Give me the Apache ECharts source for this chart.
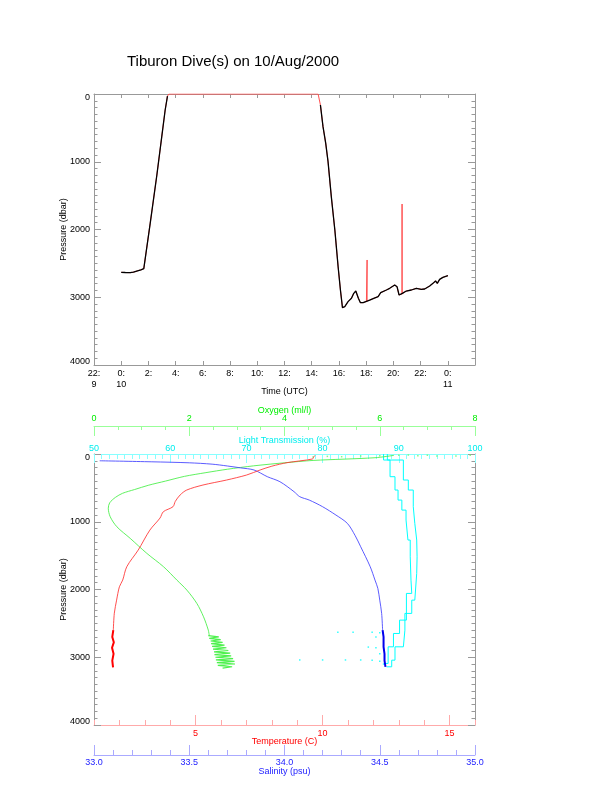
<!DOCTYPE html>
<html><head><meta charset="utf-8">
<script src="https://cdn.jsdelivr.net/npm/echarts@6/dist/echarts.min.js"></script>
<style>html,body{margin:0;padding:0;background:#fff}#c{width:612px;height:785px}</style>
</head><body><div id="c"></div>
<script>
// ---------- Top panel: pressure vs time (hours since 0:00 on the 10th) ----------
const diveTime = [0, 0.3, 0.66, 0.9, 1.2, 1.45, 1.66, 2.13, 2.62, 2.98, 3.23, 3.40, 3.5,
  14.47, 14.64, 14.83, 15.03, 15.2, 15.44, 15.7, 15.94, 16.11, 16.26,
  16.43, 16.67, 16.92, 17.09, 17.24, 17.33, 17.43, 17.58, 17.78, 18.02, 18.26, 18.56, 18.88,
  19.07, 19.49, 19.73, 20.1, 20.27, 20.42, 20.66, 20.95, 21.32, 21.69, 22.05, 22.3, 22.67,
  22.91, 23.1, 23.23, 23.4, 23.64, 24.01];
const divePressure = [2632, 2635, 2637, 2630, 2610, 2595, 2578, 1909, 1196, 630, 236, 30, 0,
  0, 162, 482, 728, 999, 1515, 2007, 2549, 2893, 3154,
  3139, 3065, 3016, 2942, 2908, 2922, 3016, 3080, 3080, 3060, 3041, 3016, 2991,
  2932, 2893, 2868, 2819, 2844, 2967, 2942, 2908, 2893, 2868, 2883, 2878, 2834,
  2795, 2760, 2795, 2736, 2706, 2681];
const spikeTime = [18.07, 20.64];
const spikeBase = [3058, 2950];
const spikeTop = [2450, 1624];
const timeTicks = [-2, 0, 2, 4, 6, 8, 10, 12, 14, 16, 18, 20, 22, 24];
const timeTickLabels = ['22:\n9', '0:\n10', '2:', '4:', '6:', '8:', '10:', '12:', '14:', '16:', '18:', '20:', '22:', '0:\n11'];

// ---------- Bottom panel: profiles vs pressure ----------
const tempPressure = [20, 45, 74, 128, 180, 236, 310, 384, 458, 532, 605, 700, 778, 852, 945, 1123, 1418, 1664, 1861, 1960, 2157, 2350, 2600];
const temperature  = [9.7, 9.65, 9.6, 8.6, 8.0, 7.54, 7.01, 6.22, 5.29, 4.65, 4.39, 4.2, 4.11, 3.73, 3.6, 3.2, 2.74, 2.29, 2.13, 2.0, 1.89, 1.8, 1.76];
const tempDeepPressure = [2600, 2620, 2700, 2780, 2860, 2950, 3050, 3150];
const tempDeep = [1.76, 1.78, 1.72, 1.78, 1.71, 1.77, 1.72, 1.75];

const salPressure = [100, 115, 130, 150, 177, 205, 236, 335, 409, 556, 630, 680, 778, 901, 1024, 1200, 1369, 1664, 1861, 1984, 2157, 2353, 2600];
const salinity    = [33.03, 33.3, 33.5, 33.62, 33.70, 33.77, 33.84, 33.91, 33.976, 34.05, 34.08, 34.13, 34.2, 34.27, 34.33, 34.37, 34.40, 34.45, 34.475, 34.49, 34.50, 34.51, 34.515];
const salDeepPressure = [2600, 2700, 2846, 2950, 3050, 3141];
const salDeep = [34.515, 34.52, 34.52, 34.525, 34.525, 34.53];

const oxyPressure = [20, 55, 95, 130, 175, 225, 275, 330, 400, 460, 525, 580, 640, 720, 800, 926, 1074, 1245, 1467, 1664, 1861, 2009, 2206, 2403, 2600, 2680];
const oxygen      = [6.3, 5.9, 4.6, 4.0, 3.35, 2.8, 2.35, 1.9, 1.5, 1.15, 0.85, 0.6, 0.45, 0.33, 0.3, 0.34, 0.48, 0.76, 1.11, 1.46, 1.74, 1.95, 2.16, 2.3, 2.4, 2.42];
const oxyBlobPressure = [2680, 2700, 2720, 2740, 2760, 2780, 2800, 2820, 2840, 2860, 2880, 2900, 2920, 2940, 2960, 2980, 3000, 3020, 3040, 3060, 3080, 3100, 3120, 3140, 3160];
const oxyBlob = [2.40, 2.62, 2.42, 2.66, 2.45, 2.70, 2.46, 2.74, 2.48, 2.78, 2.50, 2.82, 2.52, 2.86, 2.53, 2.88, 2.55, 2.92, 2.56, 2.95, 2.58, 2.96, 2.60, 2.90, 2.70];
const oxySurfPressure = [40, 30, 25, 20, 25, 30, 28, 20, 15, 18, 35, 45];
const oxySurf = [5.2, 5.6, 6.0, 6.4, 6.8, 7.2, 7.6, 7.9, 6.6, 7.0, 4.9, 4.6];

const ltDownPressure = [0, 89, 335, 532, 680, 828, 975, 1270, 1517, 1862, 2058, 2452, 2649, 2846, 3092];
const ltDown = [88.0, 88.85, 89.5, 89.9, 90.4, 90.95, 91.2, 91.5, 91.6, 91.7, 91.0, 90.1, 89.3, 88.6, 88.2];
const ltUpPressure = [0, 89, 384, 532, 778, 1024, 1270, 1517, 1762, 2157, 2353, 2600, 2846, 3043, 3141];
const ltUp = [88.5, 90.6, 91.25, 91.9, 92.1, 92.35, 92.4, 92.35, 92.1, 91.7, 90.8, 90.6, 89.5, 89.07, 88.4];
const ltDotPressure = [2630, 2630, 2632, 2640, 2700, 2850, 2860, 2950, 3040, 3040, 3040, 3040, 3045, 3060, 3100];
const ltDots = [82, 84, 86.5, 87.5, 87, 86, 87, 87.5, 77, 80, 83, 85, 86.5, 87.5, 88];

const FONT = 'Liberation Sans';
const FS = 9;
const GRAY = '#999999';
const pairs = (xs, ys) => xs.map((x, i) => [x, ys[i]]);

// red raw trace: dive data with the two spikes inserted
const rawData = [];
let s = 0;
diveTime.forEach((t, i) => {
  while (s < spikeTime.length && spikeTime[s] < t) {
    rawData.push([spikeTime[s], spikeBase[s]], [spikeTime[s], spikeTop[s]], [spikeTime[s], spikeBase[s]]);
    s++;
  }
  rawData.push([t, divePressure[i]]);
});
const blackData = diveTime.map((t, i) => [t, divePressure[i] > 0 ? divePressure[i] : '-']);

const labelFmtP = v => v === 0 ? '{lo|0}' : (v === 4000 ? '{hi|4000}' : String(v));
const richP = {
  lo: { padding: [8, 0, 0, 0], fontSize: FS, fontFamily: FONT, color: '#000' },
  hi: { padding: [0, 0, 6, 0], fontSize: FS, fontFamily: FONT, color: '#000' }
};
function pressureAxis(grid, pos, labels) {
  return {
    type: 'value', gridIndex: grid, position: pos, inverse: true, min: 0, max: 4000, interval: 1000,
    axisLine: { show: true, onZero: false, lineStyle: { color: GRAY, width: 1 } },
    axisTick: { show: true, inside: true, length: 7, lineStyle: { color: GRAY } },
    minorTick: { show: true, splitNumber: 10, length: 3.5, lineStyle: { color: GRAY } },
    splitLine: { show: false },
    axisLabel: { show: labels, fontSize: FS, fontFamily: FONT, color: '#000', margin: 4, formatter: labelFmtP, rich: richP },
    name: labels ? 'Pressure (dbar)' : '', nameLocation: 'middle', nameGap: 26, nameRotate: 90,
    nameMoveOverlap: false,
    nameTextStyle: { fontSize: FS, fontFamily: FONT, color: '#000' }
  };
}
function timeAxis(pos, labels) {
  return {
    type: 'value', gridIndex: 0, position: pos, min: -2, max: 26, interval: 2,
    axisLine: { show: true, onZero: false, lineStyle: { color: GRAY } },
    axisTick: { show: true, inside: true, length: 4, lineStyle: { color: GRAY } },
    splitLine: { show: false },
    axisLabel: {
      show: labels, fontSize: FS, fontFamily: FONT, color: '#000', margin: 3, lineHeight: 11,
      formatter: v => { const k = timeTicks.indexOf(v); return k >= 0 ? timeTickLabels[k] : ''; }
    },
    name: labels ? 'Time (UTC)' : '', nameLocation: 'middle', nameGap: 22, nameMoveOverlap: false,
    nameTextStyle: { fontSize: FS, fontFamily: FONT, color: '#000' }
  };
}
function profAxis(opt) {
  const a = Object.assign({
    type: 'value', gridIndex: 1, splitLine: { show: false },
    nameLocation: 'middle', nameMoveOverlap: false
  }, opt);
  a.axisLine = Object.assign({ onZero: false }, a.axisLine);
  return a;
}

const option = {
  animation: false,
  backgroundColor: '#fff',
  title: {
    text: 'Tiburon Dive(s) on 10/Aug/2000', left: 127, top: 54, padding: 0,
    textStyle: { fontSize: 15, fontWeight: 'normal', fontFamily: FONT, color: '#000' }
  },
  grid: [
    { left: 94, top: 94, width: 381, height: 271, containLabel: false },
    { left: 94, top: 454, width: 381, height: 271, containLabel: false }
  ],
  xAxis: [
    timeAxis('bottom', true),
    timeAxis('top', false),
    // 2: temperature (labels + major ticks)
    profAxis({
      position: 'bottom', min: 1, max: 16, interval: 1,
      axisLine: { show: true, lineStyle: { color: '#ffaaaa' } },
      axisTick: { show: true, inside: true, length: 10, customValues: [5, 10, 15], lineStyle: { color: '#ffaaaa' } },
      axisLabel: { fontSize: FS, fontFamily: FONT, color: '#ff0000', margin: 4, customValues: [5, 10, 15] },
      name: 'Temperature (C)', nameGap: 12, nameTextStyle: { fontSize: FS, fontFamily: FONT, color: '#ff0000' }
    }),
    // 3: temperature minor ticks
    profAxis({
      position: 'bottom', min: 1, max: 16, interval: 1,
      axisLine: { show: false },
      axisTick: { show: true, inside: true, length: 5, lineStyle: { color: '#ffaaaa' } },
      axisLabel: { show: false }
    }),
    // 4: salinity
    profAxis({
      position: 'bottom', offset: 30, min: 33, max: 35, interval: 0.5,
      axisLine: { show: true, lineStyle: { color: '#aaaaff' } },
      axisTick: { show: true, inside: true, length: 10, lineStyle: { color: '#aaaaff' } },
      minorTick: { show: true, splitNumber: 5, length: 5, lineStyle: { color: '#aaaaff' } },
      axisLabel: { fontSize: FS, fontFamily: FONT, color: '#2222ff', margin: 3, formatter: v => v.toFixed(1) },
      name: 'Salinity (psu)', nameGap: 12, nameTextStyle: { fontSize: FS, fontFamily: FONT, color: '#2222ff' }
    }),
    // 5: light transmission
    profAxis({
      position: 'top', min: 50, max: 100, interval: 10,
      axisLine: { show: true, lineStyle: { color: '#88ffff' } },
      axisTick: { show: true, inside: true, length: 9, lineStyle: { color: '#88ffff' } },
      minorTick: { show: true, splitNumber: 10, length: 5, lineStyle: { color: '#88ffff' } },
      axisLabel: { fontSize: FS, fontFamily: FONT, color: '#00eeee', margin: 1 },
      name: 'Light Transmission (%)', nameGap: 9, nameTextStyle: { fontSize: FS, fontFamily: FONT, color: '#00eeee' }
    }),
    // 6: oxygen
    profAxis({
      position: 'top', offset: 28, min: 0, max: 8, interval: 2,
      axisLine: { show: true, lineStyle: { color: '#99ff99' } },
      axisTick: { show: true, inside: true, length: 10, lineStyle: { color: '#99ff99' } },
      minorTick: { show: true, splitNumber: 4, length: 4, lineStyle: { color: '#99ff99' } },
      axisLabel: { fontSize: FS, fontFamily: FONT, color: '#00ee00', margin: 3 },
      name: 'Oxygen (ml/l)', nameGap: 11, nameTextStyle: { fontSize: FS, fontFamily: FONT, color: '#00ee00' }
    })
  ],
  yAxis: [
    pressureAxis(0, 'left', true),
    pressureAxis(0, 'right', false),
    pressureAxis(1, 'left', true),
    pressureAxis(1, 'right', false)
  ],
  series: [
    { type: 'line', xAxisIndex: 0, yAxisIndex: 0, data: rawData, showSymbol: false, symbol: 'none',
      lineStyle: { color: '#ff5050', width: 1 }, z: 3 },
    { type: 'line', xAxisIndex: 0, yAxisIndex: 0, data: blackData, showSymbol: false, symbol: 'none',
      connectNulls: false, lineStyle: { color: '#000', width: 1.3 }, z: 4 },

    { type: 'line', xAxisIndex: 5, yAxisIndex: 2, data: pairs(ltDown, ltDownPressure), step: 'start',
      showSymbol: false, symbol: 'none', lineStyle: { color: '#00ffff', width: 1 } },
    { type: 'line', xAxisIndex: 5, yAxisIndex: 2, data: pairs(ltUp, ltUpPressure), step: 'start',
      showSymbol: false, symbol: 'none', lineStyle: { color: '#00ffff', width: 1 } },
    { type: 'scatter', xAxisIndex: 5, yAxisIndex: 2, data: pairs(ltDots, ltDotPressure),
      symbol: 'rect', symbolSize: 1.5, itemStyle: { color: '#00ffff' } },

    { type: 'line', xAxisIndex: 6, yAxisIndex: 2, data: pairs(oxygen, oxyPressure), smooth: 0.3,
      showSymbol: false, symbol: 'none', lineStyle: { color: '#44ee44', width: 1, opacity: 0.85 } },
    { type: 'line', xAxisIndex: 6, yAxisIndex: 2, data: pairs(oxyBlob, oxyBlobPressure),
      showSymbol: false, symbol: 'none', lineStyle: { color: '#22ee22', width: 1.2, opacity: 0.8 } },
    { type: 'scatter', xAxisIndex: 6, yAxisIndex: 2, data: pairs(oxySurf, oxySurfPressure),
      symbol: 'rect', symbolSize: 1.5, itemStyle: { color: '#66ff66' } },

    { type: 'line', xAxisIndex: 4, yAxisIndex: 2, data: pairs(salinity, salPressure), smooth: 0.3,
      showSymbol: false, symbol: 'none', lineStyle: { color: '#4040ff', width: 1, opacity: 0.85 } },
    { type: 'line', xAxisIndex: 4, yAxisIndex: 2, data: pairs(salDeep, salDeepPressure),
      showSymbol: false, symbol: 'none', lineStyle: { color: '#0000ee', width: 2 } },

    { type: 'line', xAxisIndex: 2, yAxisIndex: 2, data: pairs(temperature, tempPressure), smooth: 0.3,
      showSymbol: false, symbol: 'none', lineStyle: { color: '#ff3030', width: 1, opacity: 0.85 } },
    { type: 'line', xAxisIndex: 2, yAxisIndex: 2, data: pairs(tempDeep, tempDeepPressure),
      showSymbol: false, symbol: 'none', lineStyle: { color: '#ff0000', width: 2 } }
  ]
};
const chart = echarts.init(document.getElementById('c'), null, { renderer: 'canvas' });
chart.setOption(option);
</script>
</body></html>
